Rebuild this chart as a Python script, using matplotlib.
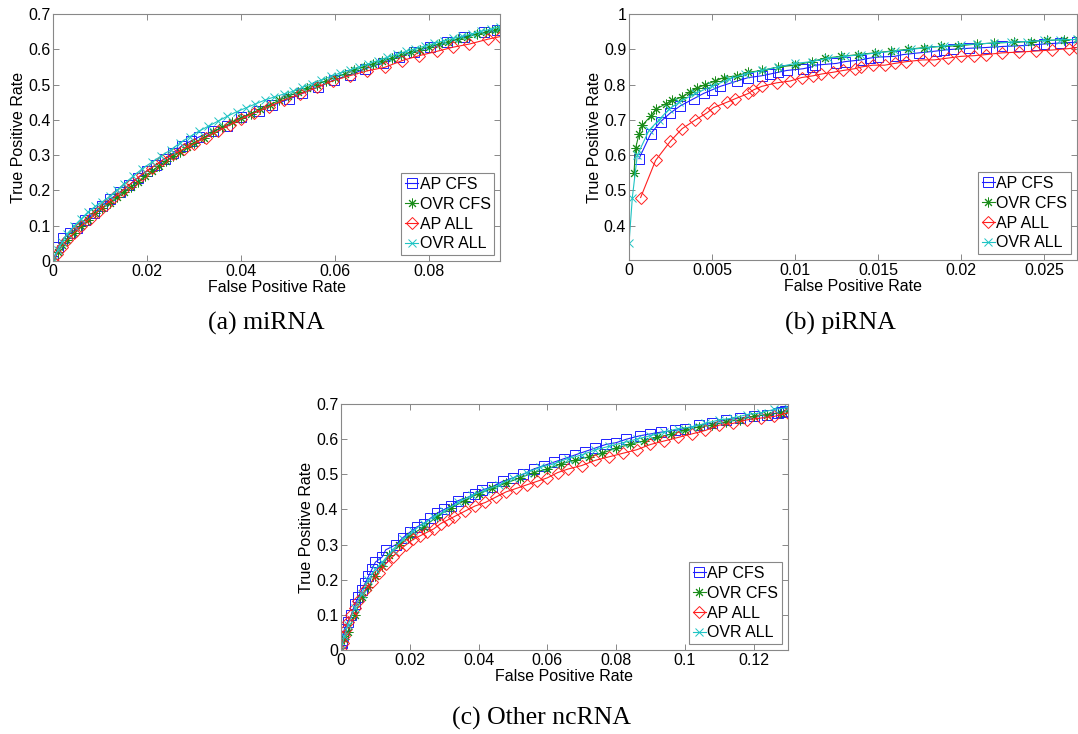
import matplotlib

matplotlib.use("Agg")
import matplotlib.pyplot as plt

plt.rcParams["font.family"] = ["Liberation Sans", "DejaVu Sans"]

LABELS = ["AP CFS", "OVR CFS", "AP ALL", "OVR ALL"]

# ---- (a) miRNA ----
a_apcfs_x = [0, 0.0011, 0.0022, 0.0036, 0.0051, 0.0068, 0.0086, 0.0104, 0.0121, 0.0143,
             0.0162, 0.0180, 0.0199, 0.0218, 0.0237, 0.0255, 0.0274, 0.0293, 0.0311, 0.034,
             0.037, 0.040, 0.0437, 0.0465, 0.0502, 0.053, 0.0562, 0.0596, 0.063, 0.0662,
             0.0701, 0.0735, 0.0767, 0.0802, 0.0838, 0.0874, 0.0916, 0.0944]
a_apcfs_y = [0, 0.041, 0.064, 0.078, 0.093, 0.116, 0.135, 0.157, 0.175, 0.196,
             0.216, 0.235, 0.255, 0.272, 0.290, 0.306, 0.327, 0.340, 0.352, 0.368,
             0.383, 0.407, 0.425, 0.441, 0.459, 0.475, 0.492, 0.513, 0.527, 0.544,
             0.562, 0.579, 0.593, 0.607, 0.620, 0.636, 0.648, 0.655]

a_ovrcfs_x = [0, 0.001, 0.002, 0.003, 0.0045, 0.006, 0.0075, 0.009, 0.0105, 0.012,
              0.0135, 0.015, 0.0165, 0.018, 0.0195, 0.021, 0.0225, 0.024, 0.0255, 0.027,
              0.0285, 0.030, 0.032, 0.034, 0.036, 0.038, 0.040, 0.042, 0.044, 0.046,
              0.048, 0.050, 0.052, 0.054, 0.056, 0.058, 0.060, 0.062, 0.064, 0.066,
              0.068, 0.070, 0.072, 0.074, 0.076, 0.078, 0.080, 0.082, 0.084, 0.086,
              0.088, 0.090, 0.092, 0.094, 0.095]
a_ovrcfs_y = [0, 0.025, 0.045, 0.060, 0.080, 0.100, 0.115, 0.135, 0.150, 0.165,
              0.180, 0.195, 0.210, 0.225, 0.240, 0.255, 0.270, 0.283, 0.297, 0.310,
              0.323, 0.335, 0.350, 0.365, 0.380, 0.393, 0.405, 0.418, 0.430, 0.442,
              0.455, 0.467, 0.478, 0.489, 0.500, 0.510, 0.520, 0.530, 0.540, 0.550,
              0.558, 0.566, 0.575, 0.583, 0.591, 0.599, 0.607, 0.614, 0.621, 0.628,
              0.635, 0.642, 0.648, 0.654, 0.657]

a_apall_x = [0, 0.0008, 0.0018, 0.003, 0.0045, 0.006, 0.0078, 0.0095, 0.0112, 0.013,
             0.0148, 0.0168, 0.0188, 0.021, 0.0232, 0.0255, 0.0278, 0.030, 0.0325, 0.035,
             0.0375, 0.040, 0.0428, 0.0458, 0.049, 0.0525, 0.056, 0.0595, 0.063, 0.0668,
             0.0705, 0.0742, 0.0778, 0.0815, 0.085, 0.0885, 0.0925, 0.095]
a_apall_y = [0, 0.020, 0.040, 0.060, 0.080, 0.100, 0.120, 0.140, 0.160, 0.180,
             0.200, 0.222, 0.245, 0.265, 0.285, 0.302, 0.318, 0.333, 0.350, 0.368,
             0.385, 0.403, 0.420, 0.437, 0.456, 0.473, 0.492, 0.511, 0.525, 0.539,
             0.549, 0.568, 0.582, 0.594, 0.606, 0.615, 0.629, 0.636]

a_ovrall_x = [0, 0.001, 0.002, 0.003, 0.0045, 0.006, 0.0075, 0.009, 0.0105, 0.012,
              0.0135, 0.015, 0.017, 0.019, 0.021, 0.023, 0.025, 0.027, 0.029, 0.031,
              0.033, 0.035, 0.037, 0.039, 0.041, 0.043, 0.045, 0.047, 0.049, 0.051,
              0.053, 0.055, 0.057, 0.059, 0.061, 0.063, 0.065, 0.067, 0.069, 0.071,
              0.073, 0.075, 0.077, 0.079, 0.081, 0.083, 0.085, 0.087, 0.089, 0.091,
              0.093, 0.095]
a_ovrall_y = [0, 0.030, 0.055, 0.077, 0.100, 0.120, 0.140, 0.155, 0.168, 0.183,
              0.200, 0.218, 0.240, 0.262, 0.280, 0.298, 0.315, 0.335, 0.352, 0.368,
              0.382, 0.396, 0.410, 0.423, 0.434, 0.445, 0.456, 0.465, 0.473, 0.481,
              0.492, 0.503, 0.513, 0.523, 0.533, 0.541, 0.550, 0.559, 0.568, 0.577,
              0.586, 0.594, 0.602, 0.609, 0.617, 0.624, 0.631, 0.637, 0.644, 0.651,
              0.657, 0.664]

a_xticks = [0, 0.02, 0.04, 0.06, 0.08]
a_yticks = [0, 0.1, 0.2, 0.3, 0.4, 0.5, 0.6, 0.7]

# ---- (b) piRNA ----
b_apcfs_x = [0.0006, 0.0013, 0.0019, 0.0025, 0.0031, 0.0039, 0.0045, 0.005, 0.0055, 0.0065,
             0.0072, 0.008, 0.0085, 0.009, 0.0095, 0.0105, 0.011, 0.0112, 0.0125, 0.013,
             0.014, 0.0145, 0.015, 0.016, 0.0165, 0.0175, 0.0185, 0.019, 0.0195, 0.0205,
             0.0215, 0.0225, 0.0235, 0.0245, 0.025, 0.026, 0.027]
b_apcfs_y = [0.59, 0.66, 0.695, 0.72, 0.74, 0.76, 0.775, 0.785, 0.795, 0.81,
             0.82, 0.825, 0.83, 0.835, 0.84, 0.845, 0.85, 0.855, 0.86, 0.865,
             0.87, 0.875, 0.878, 0.88, 0.885, 0.89, 0.895, 0.898, 0.9, 0.903,
             0.905, 0.908, 0.91, 0.913, 0.915, 0.918, 0.92]

b_ovrcfs_x = [0.0003, 0.0004, 0.0006, 0.0008, 0.0013, 0.0016, 0.0022, 0.0026, 0.0032, 0.0037,
              0.0041, 0.0046, 0.0052, 0.0057, 0.0065, 0.0072, 0.0080, 0.0090, 0.0100, 0.0110,
              0.0118, 0.0128, 0.0138, 0.0148, 0.0158, 0.0168, 0.0178, 0.0188, 0.0198, 0.021,
              0.022, 0.0232, 0.0242, 0.0252, 0.0262, 0.027]
b_ovrcfs_y = [0.55, 0.62, 0.66, 0.685, 0.71, 0.73, 0.745, 0.755, 0.765, 0.78,
              0.79, 0.80, 0.81, 0.82, 0.825, 0.835, 0.84, 0.85, 0.855, 0.865,
              0.875, 0.88, 0.885, 0.89, 0.895, 0.9, 0.905, 0.908, 0.91, 0.915,
              0.918, 0.92, 0.922, 0.925, 0.927, 0.928]

b_apall_x = [0.0007, 0.0016, 0.0025, 0.0032, 0.004, 0.0047, 0.0051, 0.0059, 0.0064, 0.0072,
             0.0075, 0.008, 0.0089, 0.0097, 0.0104, 0.0111, 0.0116, 0.0123, 0.0129, 0.0136,
             0.014, 0.0147, 0.0154, 0.016, 0.0167, 0.0177, 0.0184, 0.0192, 0.02, 0.0208,
             0.0215, 0.0225, 0.0235, 0.0245, 0.0255, 0.0265, 0.027]
b_apall_y = [0.48, 0.585, 0.64, 0.675, 0.70, 0.72, 0.735, 0.75, 0.76, 0.775,
             0.785, 0.795, 0.805, 0.81, 0.82, 0.825, 0.83, 0.835, 0.84, 0.845,
             0.85, 0.855, 0.855, 0.86, 0.865, 0.87, 0.87, 0.875, 0.88, 0.882,
             0.885, 0.89, 0.892, 0.895, 0.898, 0.902, 0.905]

b_ovrall_x = [0, 0.0002, 0.0005, 0.0012, 0.0018, 0.0024, 0.003, 0.004, 0.005, 0.006,
              0.007, 0.008, 0.009, 0.010, 0.011, 0.012, 0.013, 0.014, 0.015, 0.016,
              0.017, 0.018, 0.019, 0.020, 0.021, 0.022, 0.023, 0.024, 0.025, 0.026, 0.027]
b_ovrall_y = [0.35, 0.48, 0.60, 0.67, 0.70, 0.73, 0.75, 0.775, 0.795, 0.815,
              0.83, 0.84, 0.85, 0.86, 0.865, 0.875, 0.88, 0.885, 0.89, 0.895,
              0.9, 0.905, 0.91, 0.913, 0.915, 0.918, 0.92, 0.922, 0.925, 0.927, 0.928]

b_xticks = [0, 0.005, 0.01, 0.015, 0.02, 0.025]
b_yticks = [0.4, 0.5, 0.6, 0.7, 0.8, 0.9, 1]

# ---- (c) Other ncRNA ----
c_apcfs_x = [0, 0.0003, 0.0005, 0.001, 0.002, 0.003, 0.004, 0.005, 0.006, 0.007,
             0.008, 0.009, 0.010, 0.012, 0.013, 0.016, 0.018, 0.020, 0.022, 0.024,
             0.026, 0.028, 0.030, 0.032, 0.034, 0.037, 0.039, 0.041, 0.044, 0.047,
             0.050, 0.053, 0.056, 0.059, 0.062, 0.065, 0.068, 0.071, 0.074, 0.077,
             0.080, 0.083, 0.087, 0.090, 0.093, 0.097, 0.100, 0.104, 0.108, 0.112,
             0.116, 0.120, 0.124, 0.127, 0.128, 0.1285, 0.129, 0.1295, 0.130]
c_apcfs_y = [0, 0.02, 0.04, 0.06, 0.08, 0.10, 0.13, 0.15, 0.17, 0.19,
             0.21, 0.23, 0.25, 0.265, 0.285, 0.30, 0.32, 0.335, 0.35, 0.36,
             0.375, 0.39, 0.40, 0.41, 0.425, 0.435, 0.445, 0.455, 0.465, 0.48,
             0.49, 0.50, 0.515, 0.525, 0.535, 0.545, 0.555, 0.565, 0.575, 0.585,
             0.59, 0.60, 0.61, 0.615, 0.62, 0.625, 0.63, 0.64, 0.645, 0.655,
             0.66, 0.665, 0.67, 0.675, 0.677, 0.678, 0.679, 0.68, 0.68]

c_ovrcfs_x = [0, 0.001, 0.002, 0.004, 0.006, 0.008, 0.010, 0.012, 0.014, 0.017,
              0.020, 0.024, 0.028, 0.032, 0.036, 0.040, 0.044, 0.048, 0.052, 0.056,
              0.060, 0.064, 0.068, 0.072, 0.076, 0.080, 0.084, 0.088, 0.092, 0.096,
              0.100, 0.104, 0.108, 0.112, 0.116, 0.120, 0.124, 0.128, 0.130]
c_ovrcfs_y = [0, 0.03, 0.05, 0.10, 0.15, 0.18, 0.21, 0.24, 0.27, 0.30,
              0.325, 0.35, 0.38, 0.405, 0.425, 0.445, 0.46, 0.475, 0.49, 0.505,
              0.515, 0.53, 0.54, 0.55, 0.56, 0.575, 0.585, 0.595, 0.605, 0.615,
              0.625, 0.635, 0.64, 0.65, 0.655, 0.665, 0.67, 0.675, 0.68]

c_apall_x = [0, 0.0005, 0.001, 0.0015, 0.002, 0.003, 0.004, 0.005, 0.007, 0.009,
             0.011, 0.013, 0.015, 0.017, 0.019, 0.021, 0.023, 0.025, 0.027, 0.029,
             0.031, 0.033, 0.036, 0.039, 0.042, 0.045, 0.048, 0.051, 0.054, 0.057,
             0.060, 0.063, 0.066, 0.070, 0.074, 0.078, 0.082, 0.086, 0.090, 0.094,
             0.098, 0.102, 0.106, 0.110, 0.114, 0.118, 0.122, 0.126, 0.130]
c_apall_y = [0, 0.02, 0.04, 0.06, 0.08, 0.10, 0.12, 0.14, 0.17, 0.195,
             0.22, 0.245, 0.265, 0.285, 0.30, 0.315, 0.325, 0.335, 0.345, 0.36,
             0.37, 0.38, 0.395, 0.41, 0.42, 0.435, 0.45, 0.46, 0.47, 0.48,
             0.49, 0.505, 0.515, 0.525, 0.54, 0.55, 0.56, 0.57, 0.585, 0.595,
             0.605, 0.615, 0.625, 0.64, 0.645, 0.655, 0.66, 0.665, 0.675]

c_ovrall_x = [0, 0.001, 0.002, 0.004, 0.006, 0.008, 0.010, 0.012, 0.015, 0.018,
              0.021, 0.024, 0.027, 0.030, 0.034, 0.038, 0.042, 0.046, 0.050, 0.054,
              0.058, 0.062, 0.066, 0.070, 0.074, 0.078, 0.082, 0.086, 0.090, 0.094,
              0.098, 0.102, 0.106, 0.110, 0.114, 0.118, 0.122, 0.126, 0.130]
c_ovrall_y = [0, 0.04, 0.07, 0.12, 0.16, 0.20, 0.23, 0.25, 0.285, 0.315,
              0.34, 0.36, 0.38, 0.395, 0.42, 0.44, 0.455, 0.47, 0.49, 0.505,
              0.52, 0.53, 0.545, 0.555, 0.57, 0.58, 0.59, 0.60, 0.61, 0.62,
              0.63, 0.635, 0.645, 0.655, 0.66, 0.67, 0.675, 0.685, 0.69]

c_xticks = [0, 0.02, 0.04, 0.06, 0.08, 0.1, 0.12]
c_yticks = [0, 0.1, 0.2, 0.3, 0.4, 0.5, 0.6, 0.7]

# matlab-ish markers: square, 8-arm asterisk, diamond, x
STYLES = [
    dict(color="#1f1fff", marker="s", ms=7),
    dict(color="#1a8c1a", marker=(8, 2, 0), ms=7),
    dict(color="#ff1f1f", marker="D", ms=6),
    dict(color="#1fc4c4", marker="x", ms=6),
]
GRAY = "#888888"
FS = 11.5


def draw_panel(ax, series, xlim, ylim, xticks, yticks):
    for (xs, ys), label, st in zip(series, LABELS, STYLES):
        ax.plot(xs, ys, color=st["color"], marker=st["marker"], markersize=st["ms"],
                markerfacecolor="none", markeredgewidth=0.7, linewidth=0.8, label=label)
    ax.set_xlim(*xlim)
    ax.set_ylim(*ylim)
    ax.set_xticks(xticks)
    ax.set_xticklabels([f"{v:g}" for v in xticks])
    ax.set_yticks(yticks)
    ax.set_yticklabels([f"{v:g}" for v in yticks])
    ax.tick_params(direction="in", length=4, width=0.7, color=GRAY, labelsize=FS,
                   top=True, right=True, pad=2)
    for s in ax.spines.values():
        s.set_color(GRAY)
        s.set_linewidth(0.8)
    ax.set_xlabel("False Positive Rate", fontsize=FS, labelpad=1)
    ax.set_ylabel("True Positive Rate", fontsize=FS, labelpad=1)
    leg = ax.legend(loc="lower right", fontsize=FS, handlelength=0.8, handletextpad=0.1,
                    labelspacing=0.3, borderpad=0.25, borderaxespad=0.35, fancybox=False,
                    framealpha=1)
    leg.get_frame().set_edgecolor(GRAY)
    leg.get_frame().set_linewidth(0.8)


fig = plt.figure(figsize=(10.78, 7.34), dpi=100)

ax_a = fig.add_axes([0.0492, 0.6444, 0.4147, 0.3365])
draw_panel(ax_a, [(a_apcfs_x, a_apcfs_y), (a_ovrcfs_x, a_ovrcfs_y),
                  (a_apall_x, a_apall_y), (a_ovrall_x, a_ovrall_y)],
           (0, 0.095), (0, 0.7), a_xticks, a_yticks)

ax_b = fig.add_axes([0.5835, 0.6458, 0.4156, 0.3351])
draw_panel(ax_b, [(b_apcfs_x, b_apcfs_y), (b_ovrcfs_x, b_ovrcfs_y),
                  (b_apall_x, b_apall_y), (b_ovrall_x, b_ovrall_y)],
           (0, 0.027), (0.303, 1.0), b_xticks, b_yticks)

ax_c = fig.add_axes([0.3163, 0.1144, 0.4147, 0.3351])
draw_panel(ax_c, [(c_apcfs_x, c_apcfs_y), (c_ovrcfs_x, c_ovrcfs_y),
                  (c_apall_x, c_apall_y), (c_ovrall_x, c_ovrall_y)],
           (0, 0.13), (0, 0.7), c_xticks, c_yticks)

cap = dict(family=["Liberation Serif", "DejaVu Serif"], fontsize=18.5, ha="center", va="center")
fig.text(266 / 1078, 1 - 323 / 734, "(a) miRNA", **cap)
fig.text(840 / 1078, 1 - 323 / 734, "(b) piRNA", **cap)
fig.text(542 / 1078, 1 - 718 / 734, "(c) Other ncRNA", **cap)

fig.savefig("out.png", dpi=100)
